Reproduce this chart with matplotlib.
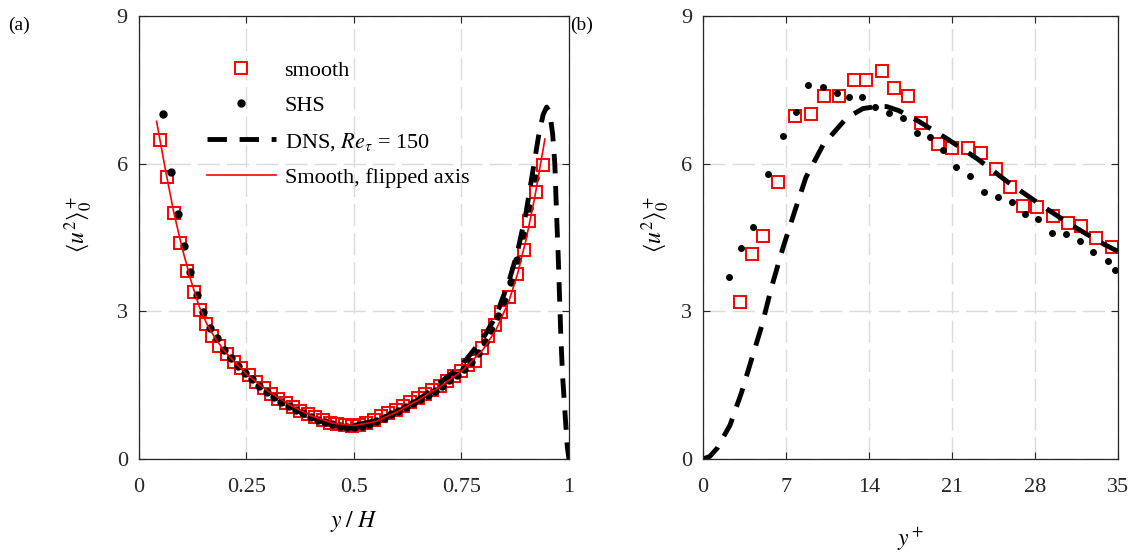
import matplotlib
matplotlib.use("Agg")
import matplotlib.pyplot as plt

plt.rcParams['font.family'] = ['Liberation Serif', 'DejaVu Serif']
plt.rcParams['mathtext.fontset'] = 'stix'
plt.rcParams['font.size'] = 16

# (a) profils sur toute la hauteur, y/H
yh_smooth = [0.050, 0.066, 0.082, 0.096, 0.111, 0.127, 0.142, 0.156, 0.170, 0.187,
             0.204, 0.221, 0.238, 0.255, 0.272, 0.290, 0.307, 0.324, 0.341, 0.358,
             0.375, 0.392, 0.410, 0.427, 0.444, 0.461, 0.478, 0.495, 0.512, 0.529,
             0.546, 0.563, 0.580, 0.597, 0.614, 0.631, 0.648, 0.665, 0.682, 0.699,
             0.716, 0.733, 0.750, 0.766, 0.782, 0.797, 0.812, 0.828, 0.843, 0.861,
             0.878, 0.895, 0.908, 0.923, 0.939]
u2_smooth = [6.48, 5.72, 5.00, 4.38, 3.82, 3.40, 3.02, 2.74, 2.50, 2.30,
             2.14, 1.98, 1.84, 1.70, 1.57, 1.44, 1.33, 1.22, 1.13, 1.05,
             0.98, 0.91, 0.85, 0.79, 0.74, 0.71, 0.69, 0.68, 0.69, 0.74,
             0.80, 0.87, 0.93, 1.00, 1.07, 1.15, 1.24, 1.32, 1.40, 1.49,
             1.58, 1.68, 1.78, 1.90, 2.00, 2.26, 2.50, 2.72, 2.98, 3.30,
             3.76, 4.25, 4.83, 5.42, 5.98]

yh_shs = [0.057, 0.074, 0.090, 0.105, 0.119, 0.134, 0.150, 0.165, 0.182, 0.198,
          0.214, 0.230, 0.247, 0.263, 0.280, 0.297, 0.314, 0.331, 0.348, 0.365,
          0.382, 0.399, 0.416, 0.433, 0.450, 0.467, 0.484, 0.501, 0.518, 0.535,
          0.552, 0.569, 0.586, 0.603, 0.620, 0.637, 0.654, 0.671, 0.688, 0.705,
          0.722, 0.739, 0.756, 0.772, 0.788, 0.804, 0.819, 0.834, 0.849, 0.864,
          0.879, 0.893, 0.907, 0.920]
u2_shs = [7.00, 5.84, 4.98, 4.33, 3.79, 3.34, 2.98, 2.67, 2.45, 2.22,
          2.05, 1.89, 1.75, 1.62, 1.49, 1.37, 1.26, 1.16, 1.08, 1.00,
          0.93, 0.86, 0.80, 0.75, 0.71, 0.68, 0.66, 0.66, 0.68, 0.72,
          0.78, 0.84, 0.91, 0.98, 1.05, 1.13, 1.21, 1.30, 1.39, 1.49,
          1.60, 1.71, 1.83, 1.98, 2.15, 2.38, 2.62, 2.90, 3.22, 3.60,
          4.05, 4.55, 5.10, 5.70]

yh_dns = [0.50, 0.55, 0.60, 0.65, 0.70, 0.75, 0.80, 0.83, 0.86, 0.88,
          0.90, 0.915, 0.93, 0.94, 0.948, 0.955, 0.962, 0.967, 0.971, 0.975,
          0.978, 0.981, 0.985, 0.991, 0.996, 1.0]
u2_dns = [0.68, 0.78, 0.95, 1.20, 1.55, 1.90, 2.45, 2.90, 3.60, 4.20,
          5.00, 5.80, 6.60, 7.00, 7.15, 7.05, 6.60, 6.00, 5.00, 4.10,
          3.30, 2.50, 1.70, 0.90, 0.25, 0.0]

yh_flip = [0.041, 0.06, 0.08, 0.10, 0.12, 0.14, 0.16, 0.18, 0.20, 0.25,
           0.30, 0.35, 0.40, 0.45, 0.50, 0.55, 0.60, 0.65, 0.70, 0.75,
           0.80, 0.83, 0.86, 0.88, 0.90, 0.92, 0.944]
u2_flip = [6.86, 5.95, 5.05, 4.30, 3.65, 3.10, 2.70, 2.42, 2.18, 1.72,
           1.38, 1.10, 0.88, 0.73, 0.68, 0.76, 0.96, 1.20, 1.47, 1.78,
           2.22, 2.62, 3.20, 3.75, 4.45, 5.30, 6.50]

# (b) zone proche paroi, y+
yp_smooth = [3.12, 4.10, 5.09, 6.32, 7.76, 9.08, 10.23, 11.44, 12.76, 13.74,
             15.12, 16.10, 17.30, 18.40, 19.84, 21.00, 22.37, 23.50, 24.70, 25.90,
             27.04, 28.20, 29.57, 30.80, 31.90, 33.14, 34.49]
up_smooth = [3.19, 4.17, 4.54, 5.62, 6.96, 7.01, 7.38, 7.38, 7.70, 7.70,
             7.89, 7.53, 7.37, 6.82, 6.40, 6.31, 6.32, 6.22, 5.90, 5.53,
             5.15, 5.12, 4.93, 4.79, 4.74, 4.49, 4.31]

yp_shs = [2.19, 3.20, 4.24, 5.51, 6.75, 7.82, 8.88, 10.12, 11.27, 12.34,
          13.38, 14.53, 15.68, 16.86, 18.04, 19.17, 20.24, 21.37, 22.56, 23.74,
          24.90, 26.05, 27.15, 28.24, 29.42, 30.63, 31.79, 32.94, 34.18, 34.77]
up_shs = [3.69, 4.29, 4.71, 5.80, 6.56, 7.04, 7.59, 7.56, 7.44, 7.36,
          7.35, 7.15, 7.03, 6.92, 6.62, 6.54, 6.28, 5.94, 5.75, 5.43,
          5.33, 5.23, 4.98, 4.87, 4.60, 4.58, 4.43, 4.20, 4.03, 3.83]

yp_dns = [0.0, 0.56, 1.2, 2.28, 3.26, 4.1, 4.95, 5.79, 6.77, 7.76,
          8.68, 10.15, 12.12, 13.5, 14.65, 15.5, 16.5, 18.0, 20.7, 23.2,
          25.76, 28.4, 30.9, 33.7, 35.0]
up_dns = [0.0, 0.05, 0.22, 0.69, 1.36, 2.03, 2.70, 3.50, 4.31, 5.05,
          5.72, 6.39, 6.93, 7.12, 7.16, 7.16, 7.08, 6.89, 6.49, 6.09,
          5.62, 5.18, 4.78, 4.38, 4.22]

xt_a = [0, 0.25, 0.5, 0.75, 1]
xt_a_lbl = ['0', '0.25', '0.5', '0.75', '1']
xt_b = [0, 7, 14, 21, 28, 35]
yt = [0, 3, 6, 9]

ylab = r'$\langle u^2\rangle_0^+$'
dns_ls = (0, (4, 2.6))

fig = plt.figure(figsize=(11.38, 5.54), dpi=100)
ax1 = fig.add_axes([0.1221, 0.1715, 0.3779, 0.7996])
ax2 = fig.add_axes([0.6178, 0.1715, 0.3644, 0.7996])


def style(ax, ylab_x):
    ax.grid(True, color='0.86', linestyle=(0, (16, 5)), linewidth=1.0)
    ax.set_axisbelow(True)
    ax.tick_params(direction='in', top=True, right=True, length=5, width=0.8,
                   labelsize=16, colors='0.15')
    ax.tick_params(axis='x', pad=14)
    ax.tick_params(axis='y', pad=8)
    for s in ax.spines.values():
        s.set_color('0.15')
        s.set_linewidth(0.9)
    ax.set_yticks(yt)
    ax.set_ylim(0, 9)
    ax.set_ylabel(ylab, fontsize=17)
    ax.yaxis.set_label_coords(ylab_x, 0.53)


# --- (a)
ax1.plot(yh_smooth, u2_smooth, 's', ms=8, mfc='none', mec='red', mew=1.4, label='smooth')
ax1.plot(yh_shs, u2_shs, 'o', ms=5, color='black', label='SHS')
ax1.plot(yh_dns, u2_dns, color='black', lw=3.5, linestyle=dns_ls,
         label=r'DNS, $Re_{\tau}$ = 150')
ax1.plot(yh_flip, u2_flip, color='red', lw=1.2, label='Smooth, flipped axis')
style(ax1, -0.102)
ax1.set_xlim(0, 1)
ax1.set_xticks(xt_a)
ax1.set_xticklabels(xt_a_lbl)
ax1.set_xlabel(r'$y\;/\;H$', fontsize=17, labelpad=8)
ax1.legend(loc='upper left', bbox_to_anchor=(0.137, 0.92), frameon=False,
           handlelength=3.1, handletextpad=0.4, labelspacing=0.66, fontsize=16,
           borderaxespad=0)

# --- (b)
ax2.plot(yp_smooth, up_smooth, 's', ms=8, mfc='none', mec='red', mew=1.4)
ax2.plot(yp_shs, up_shs, 'o', ms=4, color='black')
ax2.plot(yp_dns, up_dns, color='black', lw=3.5, linestyle=dns_ls)
style(ax2, -0.074)
ax2.set_xlim(0, 35)
ax2.set_xticks(xt_b)
ax2.set_xlabel(r'$y^+$', fontsize=17, labelpad=20)

fig.text(0.007, 0.97, '(a)', fontsize=14, va='top')
fig.text(0.501, 0.97, '(b)', fontsize=14, va='top')

fig.savefig('out.png', dpi=100)
